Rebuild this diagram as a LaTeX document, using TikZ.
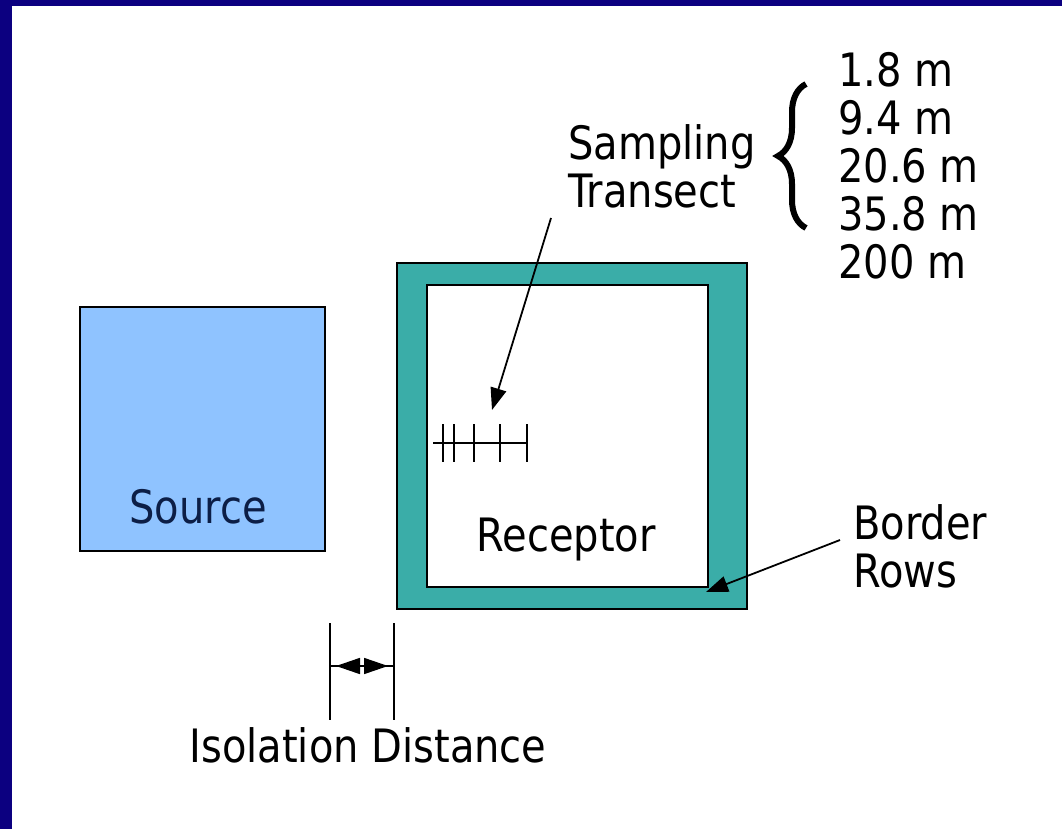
\documentclass[tikz,border=0pt]{standalone}
\usepackage{fontspec}
\setmainfont{DejaVu Sans}
\usetikzlibrary{arrows.meta,decorations.pathreplacing}
\definecolor{navyband}{RGB}{12,0,128}
\definecolor{teal}{RGB}{58,173,168}
\definecolor{srcblue}{RGB}{143,195,255}
\definecolor{srctext}{RGB}{12,30,70}
\tikzset{
  lbl/.style={inner sep=0pt, font=\fontsize{40}{41.7}\selectfont, yscale=1.15, align=left},
  boxline/.style={draw=black, line width=1.6pt},
  pointer/.style={line width=1.8pt, -{Triangle[length=22pt,width=16pt]}},
  tick/.style={line width=1.6pt}
}
\begin{document}
\begin{tikzpicture}[x=1pt,y=-1pt]
\useasboundingbox (0,0) rectangle (1062,829);
\fill[white] (0,0) rectangle (1062,829);
\fill[navyband] (0,0) rectangle (12,829);
\fill[navyband] (0,0) rectangle (1062,6);

% Source
\node[boxline, fill=srcblue, minimum width=245pt, minimum height=244pt, inner sep=0pt] (source) at (202.5,429) {};
\node[lbl, text=srctext] (sourcelbl) at (198,507) {Source};

% Receptor with border rows
\node[boxline, fill=teal, minimum width=350pt, minimum height=346pt, inner sep=0pt] (outer) at (572,436) {};
\node[boxline, fill=white, minimum width=281pt, minimum height=302pt, inner sep=0pt] (inner) at (567.5,436) {};
\node[lbl] (receptor) at (566,540) {Receptor};

% transect
\coordinate (tA) at (433,443);
\coordinate (tB) at (527,443);
\draw[tick] (tA) -- (tB);
\foreach \x in {443,454,474,500,527}
  \draw[tick] (\x,424) -- (\x,462);
\coordinate (ttip) at (492,410);

% Sampling transect label
\node[lbl, anchor=west] (samp) at (568,166) {Sampling\\Transect};
\coordinate (sstart) at (551,218);
\draw[pointer] (sstart) -- (ttip);

% brace and distances
\coordinate (brb) at (806,228);
\coordinate (brt) at (806,84);
\draw[line width=6pt, decorate, decoration={brace, amplitude=28pt}] (brb) -- (brt);
\node[lbl, anchor=west] (dist) at (838,166) {1.8 m\\9.4 m\\20.6 m\\35.8 m\\200 m};

% Border rows
\node[lbl, anchor=west] (border) at (853,546) {Border\\Rows};
\coordinate (bstart) at (840,540);
\coordinate (btip) at (706,592);
\draw[pointer] (bstart) -- (btip);

% Isolation distance
\coordinate (iL1) at (330,623);
\coordinate (iL2) at (330,720);
\coordinate (iR1) at (394,623);
\coordinate (iR2) at (394,720);
\draw[line width=1.6pt] (iL1) -- (iL2);
\draw[line width=1.6pt] (iR1) -- (iR2);
\coordinate (iM) at (362,666);
\coordinate (iLa) at (331,666);
\coordinate (iRa) at (393,666);
\draw[line width=1.6pt] (iLa) -- (iRa);
\draw[line width=1.6pt, -{Triangle[length=24pt,width=16pt]}] (iM) -- (336,666);
\draw[line width=1.6pt, -{Triangle[length=24pt,width=16pt]}] (iM) -- (388,666);
\node[lbl] (iso) at (368,745) {Isolation Distance};
\end{tikzpicture}
\end{document}
